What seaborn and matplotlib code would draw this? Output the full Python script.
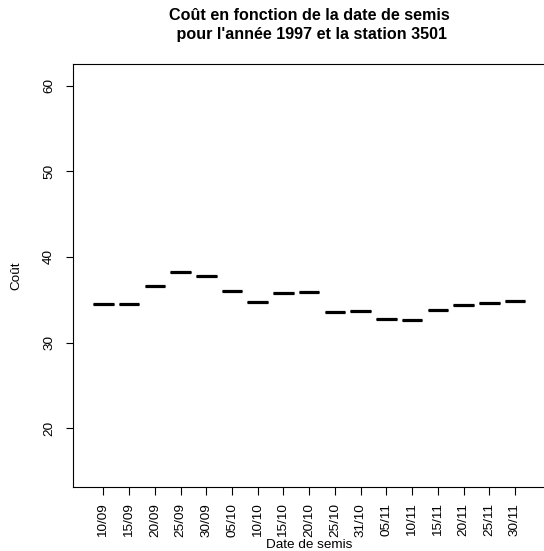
import matplotlib
matplotlib.use('Agg')
import matplotlib.pyplot as plt
import seaborn as sns
import pandas as pd

dates = ['10/09', '15/09', '20/09', '25/09', '30/09', '05/10', '10/10', '15/10', '20/10',
         '25/10', '31/10', '05/11', '10/11', '15/11', '20/11', '25/11', '30/11']
cout = [34.5, 34.5, 36.65, 38.2, 37.8, 36.05, 34.8, 35.75, 35.9,
        33.55, 33.75, 32.8, 32.65, 33.8, 34.4, 34.6, 34.85]
yticks = [20, 30, 40, 50, 60]

sns.set_style('ticks')
plt.rcParams['font.family'] = ['Liberation Sans', 'DejaVu Sans']
plt.rcParams['text.color'] = 'black'
plt.rcParams['axes.labelcolor'] = 'black'

df = pd.DataFrame({'date': dates, 'cout': cout})

fig = plt.figure(figsize=(5.44, 5.51), dpi=100)
ax = fig.add_axes([73 / 544, 1 - 487.3 / 551, (545.4 - 73) / 544, (487.3 - 64) / 551])

sns.boxplot(data=df, x='date', y='cout', order=dates, ax=ax, color='white',
            linecolor='black', width=0.8, whis=0, fliersize=0, showcaps=False,
            boxprops={'linewidth': 0.8},
            medianprops={'linewidth': 2.3, 'color': 'black', 'solid_capstyle': 'butt'})

ax.set_xlim(-1.18, len(dates) - 1 + 1.18)
ax.set_ylim(13.11, 62.53)
ax.set_yticks(yticks)
ax.set_yticklabels([str(v) for v in yticks], rotation=90, va='center')
ax.set_xticks(range(len(dates)))
ax.set_xticklabels(dates, rotation=90)

for s in ax.spines.values():
    s.set_visible(True)
    s.set_linewidth(0.8)
    s.set_color('black')
ax.tick_params(axis='both', direction='out', length=5.4, width=0.8, colors='black',
               labelcolor='black', labelsize=9.7)
ax.tick_params(axis='x', pad=6)
ax.tick_params(axis='y', pad=7.5)

ax.set_xlabel('Date de semis', fontsize=9.7, labelpad=1, color='black')
ax.set_ylabel('Coût', fontsize=9.7, labelpad=15, color='black')
ax.set_title("Coût en fonction de la date de semis\n pour l'année 1997 et la station 3501",
             fontsize=11.6, fontweight='bold', pad=18, linespacing=1.3, color='black')

plt.savefig('out.png', dpi=100)
plt.close()
